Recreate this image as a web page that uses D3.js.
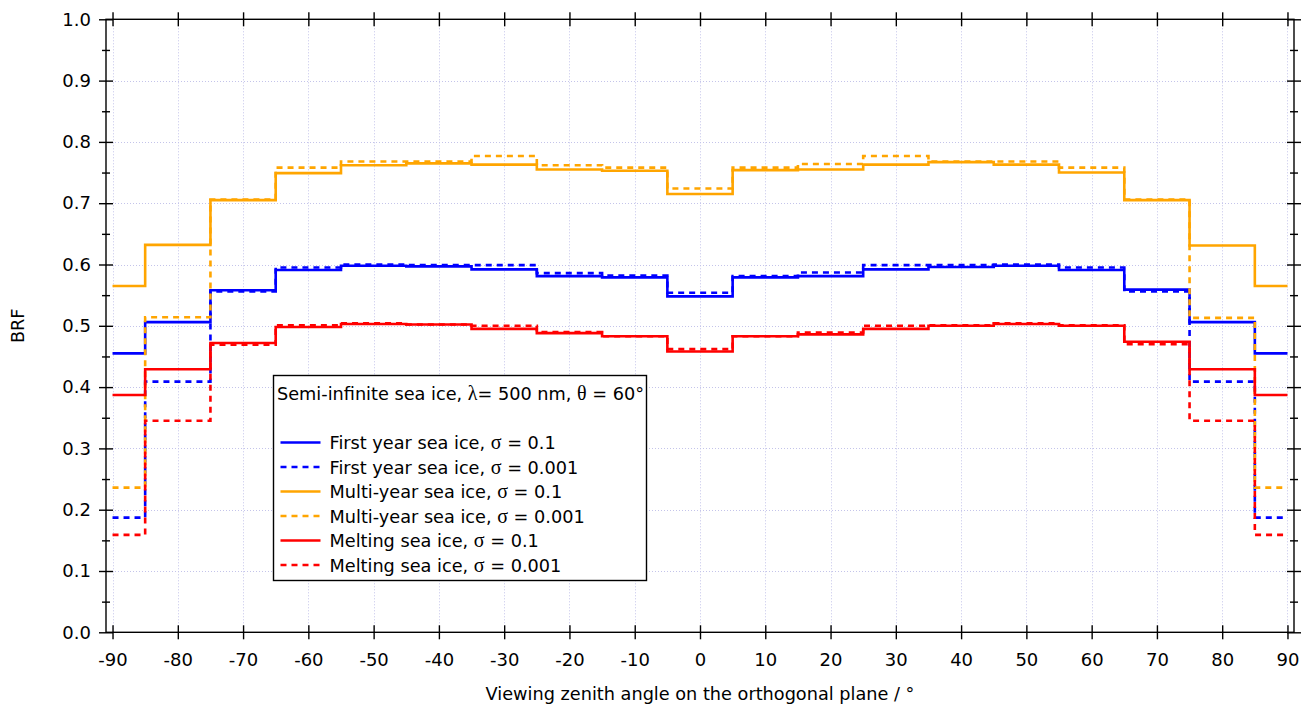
<!DOCTYPE html>
<html>
<head>
<meta charset="utf-8">
<script src="https://cdn.jsdelivr.net/npm/d3@7"></script>
<style>
  html, body { margin: 0; padding: 0; background: #fff; }
  svg { display: block; }
  text { font-family: "DejaVu Sans", Verdana, sans-serif; fill: #000; }
</style>
</head>
<body>
<svg id="chart" width="1311" height="708"></svg>
<script>
// Viewing zenith angles (bin centres, degrees)
const angles = [-90, -80, -70, -60, -50, -40, -30, -20, -10, 0, 10, 20, 30, 40, 50, 60, 70, 80, 90];

// Bidirectional reflectance factor per angle bin
const firstYear01   = [0.455, 0.506, 0.558, 0.591, 0.598, 0.597, 0.592, 0.581, 0.579, 0.548, 0.579, 0.581, 0.592, 0.596, 0.598, 0.591, 0.559, 0.506, 0.455];
const firstYear0001 = [0.187, 0.409, 0.556, 0.595, 0.600, 0.599, 0.599, 0.586, 0.582, 0.554, 0.581, 0.587, 0.599, 0.599, 0.600, 0.595, 0.556, 0.409, 0.187];
const multiYear01   = [0.565, 0.632, 0.705, 0.749, 0.762, 0.765, 0.763, 0.755, 0.753, 0.715, 0.754, 0.755, 0.763, 0.767, 0.763, 0.750, 0.705, 0.631, 0.565];
const multiYear0001 = [0.236, 0.514, 0.706, 0.758, 0.768, 0.768, 0.777, 0.762, 0.758, 0.724, 0.758, 0.764, 0.777, 0.768, 0.768, 0.758, 0.706, 0.513, 0.236];
const melting01     = [0.387, 0.429, 0.472, 0.498, 0.503, 0.502, 0.495, 0.488, 0.483, 0.458, 0.483, 0.486, 0.495, 0.500, 0.503, 0.500, 0.474, 0.429, 0.387];
const melting0001   = [0.159, 0.345, 0.469, 0.501, 0.504, 0.502, 0.500, 0.490, 0.483, 0.462, 0.483, 0.489, 0.500, 0.501, 0.504, 0.501, 0.470, 0.345, 0.159];

// Series names, σ labels and values
const seriesNames  = ["First year sea ice", "First year sea ice", "Multi-year sea ice", "Multi-year sea ice", "Melting sea ice", "Melting sea ice"];
const seriesSigmas = ["0.1", "0.001", "0.1", "0.001", "0.1", "0.001"];
const seriesValues = [firstYear01, firstYear0001, multiYear01, multiYear0001, melting01, melting0001];
const seriesColors = ["#0000ff", "#0000ff", "#ffa500", "#ffa500", "#ff0000", "#ff0000"];
const seriesDashed = [false, true, false, true, false, true];

// Axis ticks
const xTicks = [-90, -80, -70, -60, -50, -40, -30, -20, -10, 0, 10, 20, 30, 40, 50, 60, 70, 80, 90];
const yTicks = [0.0, 0.1, 0.2, 0.3, 0.4, 0.5, 0.6, 0.7, 0.8, 0.9, 1.0];
const yMinorTicks = [0.05, 0.15, 0.25, 0.35, 0.45, 0.55, 0.65, 0.75, 0.85, 0.95];

const svg = d3.select("#chart");
const pLeft = 106, pRight = 1294, pTop = 19.3, pBottom = 632.3;
const labelSize = "18px", textSize = "17.7px", greekSize = "20px";

const x = d3.scaleLinear().domain([-91, 91]).range([pLeft, pRight]);
const y = d3.scaleLinear().domain([0, 1]).range([pBottom, pTop]);

// Dotted grid
const grid = svg.append("g").attr("stroke", "#c4c4ea").attr("stroke-width", 1).attr("stroke-dasharray", "1,2");
grid.selectAll("line.v").data(xTicks).join("line")
  .attr("x1", d => Math.round(x(d)) + 0.5).attr("x2", d => Math.round(x(d)) + 0.5)
  .attr("y1", pTop).attr("y2", pBottom);
grid.selectAll("line.h").data(yTicks.slice(1, -1)).join("line")
  .attr("y1", d => Math.round(y(d)) + 0.5).attr("y2", d => Math.round(y(d)) + 0.5)
  .attr("x1", pLeft).attr("x2", pRight);

// Step lines
const line = d3.line()
  .x((d, i) => x(angles[i]))
  .y(d => y(d))
  .curve(d3.curveStep);

const plot = svg.append("g");
seriesValues.forEach((vals, k) => {
  plot.append("path")
    .datum(vals)
    .attr("d", line)
    .attr("fill", "none")
    .attr("stroke", seriesColors[k])
    .attr("stroke-width", 2.6)
    .attr("stroke-dasharray", seriesDashed[k] ? "6,5" : null);
});

const tickLen = 7, minorLen = 4;

// bottom
const gb = svg.append("g").attr("transform", `translate(0,${pBottom})`);
gb.call(d3.axisBottom(x).tickValues(xTicks).tickSize(tickLen).tickFormat(d => String(d)));
gb.select(".domain").remove();
gb.selectAll(".tick line").attr("y1", -tickLen).attr("stroke-width", 1.4);
gb.selectAll(".tick text").attr("y", 21).attr("dy", "0.71em")
  .style("font-size", labelSize).style("font-family", "DejaVu Sans");

// top
const gt = svg.append("g").attr("transform", `translate(0,${pTop})`);
gt.call(d3.axisTop(x).tickValues(xTicks).tickSize(tickLen).tickFormat(""));
gt.select(".domain").remove();
gt.selectAll(".tick line").attr("y1", tickLen).attr("stroke-width", 1.4);

// left
const gl = svg.append("g").attr("transform", `translate(${pLeft},0)`);
gl.call(d3.axisLeft(y).tickValues(yTicks).tickSize(tickLen).tickFormat(d3.format(".1f")));
gl.select(".domain").remove();
gl.selectAll(".tick line").attr("x1", tickLen).attr("stroke-width", 1.4);
gl.selectAll(".tick text").attr("x", -15)
  .style("font-size", labelSize).style("font-family", "DejaVu Sans");
const glm = svg.append("g").attr("transform", `translate(${pLeft},0)`);
glm.call(d3.axisLeft(y).tickValues(yMinorTicks).tickSize(minorLen).tickFormat(""));
glm.select(".domain").remove();
glm.selectAll(".tick line").attr("x1", minorLen).attr("stroke-width", 1.4);

// right
const gr = svg.append("g").attr("transform", `translate(${pRight},0)`);
gr.call(d3.axisRight(y).tickValues(yTicks).tickSize(tickLen).tickFormat(""));
gr.select(".domain").remove();
gr.selectAll(".tick line").attr("x1", -tickLen).attr("stroke-width", 1.4);
const grm = svg.append("g").attr("transform", `translate(${pRight},0)`);
grm.call(d3.axisRight(y).tickValues(yMinorTicks).tickSize(minorLen).tickFormat(""));
grm.select(".domain").remove();
grm.selectAll(".tick line").attr("x1", -minorLen).attr("stroke-width", 1.4);

// Frame
svg.append("rect")
  .attr("x", pLeft).attr("y", pTop)
  .attr("width", pRight - pLeft).attr("height", pBottom - pTop)
  .attr("fill", "none").attr("stroke", "#000").attr("stroke-width", 1.4);

// Axis titles
svg.append("text")
  .attr("x", (pLeft + pRight) / 2).attr("y", 700)
  .attr("text-anchor", "middle")
  .style("font-size", textSize)
  .text("Viewing zenith angle on the orthogonal plane / °");

svg.append("text")
  .attr("transform", `translate(24,${(pTop + pBottom) / 2}) rotate(-90)`)
  .attr("text-anchor", "middle")
  .style("font-size", textSize)
  .text("BRF");

// Legend
const lg = svg.append("g").attr("transform", "translate(273.5,375.5)");
lg.append("rect").attr("width", 373).attr("height", 205)
  .attr("fill", "#fff").attr("stroke", "#000").attr("stroke-width", 1.4);

const serif = "Liberation Serif, DejaVu Serif, serif";
const titleText = lg.append("text").attr("x", 3.5).attr("y", 24).style("font-size", textSize);
titleText.append("tspan").text("Semi-infinite sea ice, ");
titleText.append("tspan").style("font-family", serif).style("font-size", greekSize).text("λ");
titleText.append("tspan").text("= 500 nm, ");
titleText.append("tspan").style("font-family", serif).style("font-size", greekSize).text("θ");
titleText.append("tspan").text(" = 60°");

const rows = lg.selectAll("g.row").data(seriesNames).join("g")
  .attr("transform", (d, i) => `translate(0,${67 + i * 24.5})`);
rows.append("line")
  .attr("x1", 7).attr("x2", 47).attr("y1", 0).attr("y2", 0)
  .attr("stroke", (d, i) => seriesColors[i])
  .attr("stroke-width", 2.6)
  .attr("stroke-dasharray", (d, i) => seriesDashed[i] ? "6,5" : null);
const rowText = rows.append("text").attr("x", 56).attr("y", 6.5).style("font-size", textSize);
rowText.append("tspan").text(d => d + ", ");
rowText.append("tspan").style("font-family", serif).style("font-size", greekSize).text("σ");
rowText.append("tspan").text((d, i) => " = " + seriesSigmas[i]);
</script>
</body>
</html>
